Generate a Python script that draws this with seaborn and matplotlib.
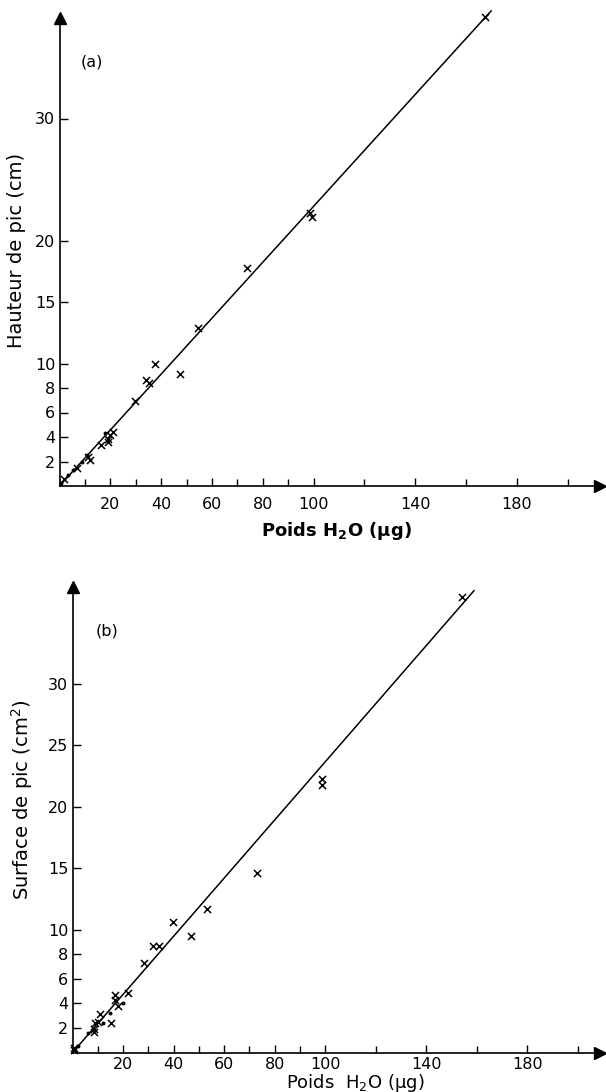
import numpy as np
import pandas as pd
import matplotlib
matplotlib.use("Agg")
import matplotlib.pyplot as plt
import seaborn as sns

# ---------------- data ----------------
# Panel (a): Hauteur de pic (cm) vs Poids H2O (ug)
a_cross_x = [54.5, 37.6, 47.4, 34.1, 35.2, 29.7, 73.8, 98.6, 99.4, 167.5,
             21.2, 19.9, 19.2, 19.2, 16.3, 11.3, 12.0, 6.8, 1.9]
a_cross_y = [12.9, 9.96, 9.14, 8.65, 8.4, 6.94, 17.8, 22.3, 22.0, 38.3,
             4.43, 4.16, 3.81, 3.6, 3.35, 2.34, 2.12, 1.44, 0.55]
a_dot_x = [17.9, 10.7, 9.0, 5.4, 3.2, 0.6]
a_dot_y = [4.33, 2.53, 1.98, 1.31, 0.9, 0.27]
a_fit_x = [0, 170]
a_fit_y = [0, 38.8]

# Panel (b): Surface de pic (cm2) vs Poids H2O (ug)
b_cross_x = [73.0, 53.2, 39.8, 46.9, 31.9, 34.2, 28.3, 98.8, 98.8, 154.2,
             21.9, 16.8, 16.8, 17.9, 10.9, 15.2, 10.2, 9.0, 8.6, 8.6, 0.7, 0.4]
b_cross_y = [14.6, 11.7, 10.6, 9.5, 8.7, 8.7, 7.3, 22.3, 21.8, 37.1,
             4.87, 4.68, 4.27, 3.79, 3.13, 2.37, 2.51, 2.4, 1.9, 1.7, 0.35, 0.2]
b_dot_x = [20.1, 14.8, 12.0, 6.3, 2.1]
b_dot_y = [4.0, 3.19, 2.41, 1.61, 0.56]
b_fit_x = [0, 159]
b_fit_y = [0, 37.6]

x_major = [20, 40, 60, 80, 100, 140, 180]
x_minor = [10, 30, 50, 70, 90, 120, 160, 200]
a_y_ticks = [2, 4, 6, 8, 10, 15, 20, 30]
b_y_ticks = [2, 4, 6, 8, 10, 15, 20, 25, 30]

# ---------------- style ----------------
sns.set_theme(style="ticks")
plt.rcParams['font.family'] = ['DejaVu Sans']
plt.rcParams['mathtext.default'] = 'regular'

W, H = 606, 1092
fig = plt.figure(figsize=(W / 100, H / 100), dpi=100)
fig.patch.set_facecolor("white")


def px_axes(x0, x1, y_bottom, y_top):
    return fig.add_axes([x0 / W, 1 - y_bottom / H, (x1 - x0) / W, (y_bottom - y_top) / H])


def draw_panel(ax, cx, cy, dx, dy, fx, fy, xlim, ylim, yticks, letter, letter_pos,
               xlabel, ylabel, xlabel_kw, ylabel_kw, xpad):
    ax.set_facecolor("white")
    sns.lineplot(x=fx, y=fy, ax=ax, color="black", lw=1.1, clip_on=False)
    sns.scatterplot(x=cx, y=cy, ax=ax, marker="x", color="black", s=26,
                    linewidth=1.1, clip_on=False)
    sns.scatterplot(x=dx, y=dy, ax=ax, marker="o", color="black", s=8,
                    linewidth=0, clip_on=False)
    ax.set_xlim(*xlim)
    ax.set_ylim(*ylim)
    for s in ["top", "right"]:
        ax.spines[s].set_visible(False)
    for s in ["left", "bottom"]:
        ax.spines[s].set_linewidth(1.2)
        ax.spines[s].set_color("black")
    ax.set_xticks(x_major)
    ax.set_xticks(x_minor, minor=True)
    ax.set_yticks(yticks)
    ax.set_xticklabels([str(v) for v in x_major])
    ax.set_yticklabels([str(v) for v in yticks])
    ax.tick_params(axis="both", which="both", direction="in", color="black",
                   width=1.0, labelsize=11.5, labelcolor="black")
    ax.tick_params(axis="x", which="major", length=6, pad=xpad)
    ax.tick_params(axis="x", which="minor", length=5)
    ax.tick_params(axis="y", which="major", length=6, pad=3)
    # arrow heads
    ax.plot(1, 0, ">", color="black", ms=8, transform=ax.get_yaxis_transform(), clip_on=False)
    ax.plot(0, 1, "^", color="black", ms=8, transform=ax.get_xaxis_transform(), clip_on=False)
    ax.set_xlabel("")
    ax.set_ylabel("")
    ax.text(letter_pos[0], letter_pos[1], letter, transform=ax.transAxes,
            fontsize=11.5, color="black", ha="center", va="center")
    fig.text(*xlabel_kw.pop("pos"), xlabel, ha="center", va="center", color="black", **xlabel_kw)
    fig.text(*ylabel_kw.pop("pos"), ylabel, ha="center", va="center", rotation=90,
             color="black", **ylabel_kw)


# Panel (a)
ax_a = px_axes(59.5, 600, 486, 18)
draw_panel(ax_a, a_cross_x, a_cross_y, a_dot_x, a_dot_y, a_fit_x, a_fit_y,
           (0, (600 - 59.5) / 2.54), (0, (486 - 18) / 12.25), a_y_ticks,
           "(a)", ((92 - 59.5) / 540.5, (486 - 62) / 468),
           "Poids H$_2$O ($\\mu$g)", "Hauteur de pic (cm)",
           dict(pos=(336 / W, 1 - 531 / H), fontsize=13, fontweight="bold"),
           dict(pos=(17 / W, 1 - 250 / H), fontsize=14), xpad=8)

# Panel (b)
ax_b = px_axes(72.5, 600, 1052.6, 587)
draw_panel(ax_b, b_cross_x, b_cross_y, b_dot_x, b_dot_y, b_fit_x, b_fit_y,
           (0, (600 - 72.5) / 2.526), (0, (1052.6 - 587) / 12.29), b_y_ticks,
           "(b)", ((107 - 72.5) / 527.5, (1052.6 - 631) / 465.6),
           "Poids  H$_2$O ($\\mu$g)", "Surface de pic (cm$^2$)",
           dict(pos=(355 / W, 1 - 1083 / H), fontsize=13),
           dict(pos=(22 / W, 1 - 800 / H), fontsize=14), xpad=3)

fig.savefig("out.png", dpi=100, facecolor="white")
